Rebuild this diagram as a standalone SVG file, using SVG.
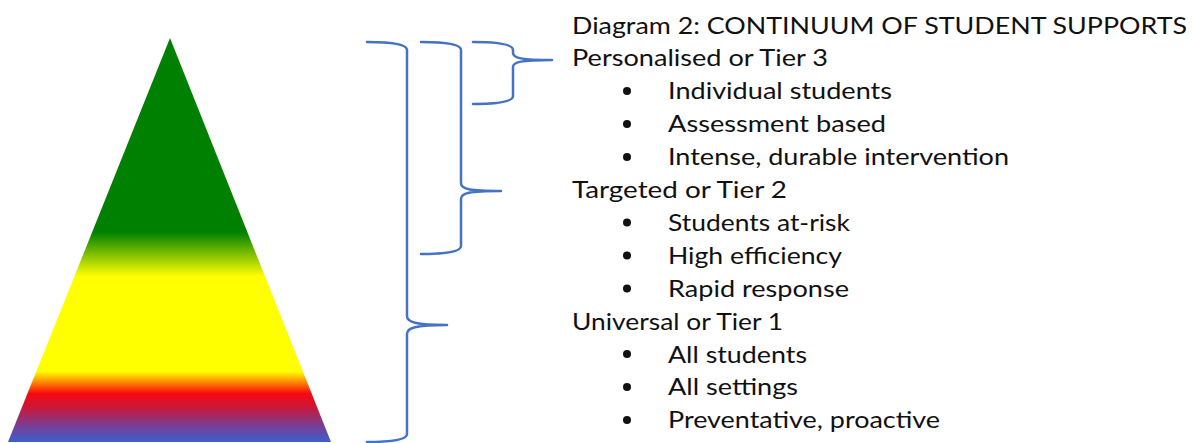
<svg xmlns="http://www.w3.org/2000/svg" width="1193" height="443" viewBox="0 0 1193 443">
<style>
.t{font-family:Lato,"Noto Sans","Liberation Sans",sans-serif;font-size:24px;fill:#111;}
.b{stroke:#4472C4;stroke-width:2.5;fill:none;stroke-linejoin:round;stroke-linecap:round;}
.dot{fill:#111;}
</style>
<defs>
<linearGradient id="g" gradientUnits="userSpaceOnUse" x1="0" y1="38" x2="0" y2="442">
<stop offset="0" stop-color="#008000"/>
<stop offset="0.48" stop-color="#008000"/>
<stop offset="0.59" stop-color="#FFFF00"/>
<stop offset="0.825" stop-color="#FFFF00"/>
<stop offset="0.848" stop-color="#FF9900"/>
<stop offset="0.88" stop-color="#F80810"/>
<stop offset="0.915" stop-color="#C8183A"/>
<stop offset="0.963" stop-color="#74409A"/>
<stop offset="1" stop-color="#3D5FCD"/>
</linearGradient>
</defs>
<rect width="1193" height="443" fill="#fff"/>
<g id="pyramid">
<polygon points="170,38 8,442 331,442" fill="url(#g)"/>
</g>
<g id="connectors">
<path class="b" d="M367,42 C390,42 407,44 407,50 L407,316 C407,322 415,325 447,325 C415,325 407,328 407,334 L407,434 C407,440 390,442 367,442"/>
<path class="b" d="M421,42 C444,42 461,44 461,50 L461,183 C461,189 469,191 501,191 C469,191 461,193 461,199 L461,246 C461,252 444,254 421,254"/>
<path class="b" d="M473,42 C496,42 513,44 513,50 L513,53 C513,58 521,60 552,60 C521,60 513,62 513,67 L513,96 C513,102 496,104 473,104"/>
</g>
<g id="title">
<text class="t" x="572" y="33.5" textLength="615" lengthAdjust="spacingAndGlyphs">Diagram 2: CONTINUUM OF STUDENT SUPPORTS</text>
</g>
<g id="tier3">
<text class="t" x="572" y="66.4" textLength="256" lengthAdjust="spacingAndGlyphs">Personalised or Tier 3</text>
<circle class="dot" cx="627" cy="91" r="4"/>
<text class="t" x="668" y="99.3" textLength="224" lengthAdjust="spacingAndGlyphs">Individual students</text>
<circle class="dot" cx="627" cy="124" r="4"/>
<text class="t" x="668" y="132.2" textLength="218" lengthAdjust="spacingAndGlyphs">Assessment based</text>
<circle class="dot" cx="627" cy="157" r="4"/>
<text class="t" x="668" y="165.1" textLength="341" lengthAdjust="spacingAndGlyphs">Intense, durable intervention</text>
</g>
<g id="tier2">
<text class="t" x="572" y="198" textLength="215" lengthAdjust="spacingAndGlyphs">Targeted or Tier 2</text>
<circle class="dot" cx="627" cy="222.5" r="4"/>
<text class="t" x="668" y="230.9" textLength="182" lengthAdjust="spacingAndGlyphs">Students at-risk</text>
<circle class="dot" cx="627" cy="255.5" r="4"/>
<text class="t" x="668" y="263.8" textLength="174" lengthAdjust="spacingAndGlyphs">High efficiency</text>
<circle class="dot" cx="627" cy="288.5" r="4"/>
<text class="t" x="668" y="296.7" textLength="181" lengthAdjust="spacingAndGlyphs">Rapid response</text>
</g>
<g id="tier1">
<text class="t" x="572" y="329.6" textLength="211" lengthAdjust="spacingAndGlyphs">Universal or Tier 1</text>
<circle class="dot" cx="627" cy="354" r="4"/>
<text class="t" x="668" y="362.5" textLength="139" lengthAdjust="spacingAndGlyphs">All students</text>
<circle class="dot" cx="627" cy="387" r="4"/>
<text class="t" x="668" y="395.4" textLength="130" lengthAdjust="spacingAndGlyphs">All settings</text>
<circle class="dot" cx="627" cy="420" r="4"/>
<text class="t" x="668" y="428.3" textLength="272" lengthAdjust="spacingAndGlyphs">Preventative, proactive</text>
</g>
</svg>
